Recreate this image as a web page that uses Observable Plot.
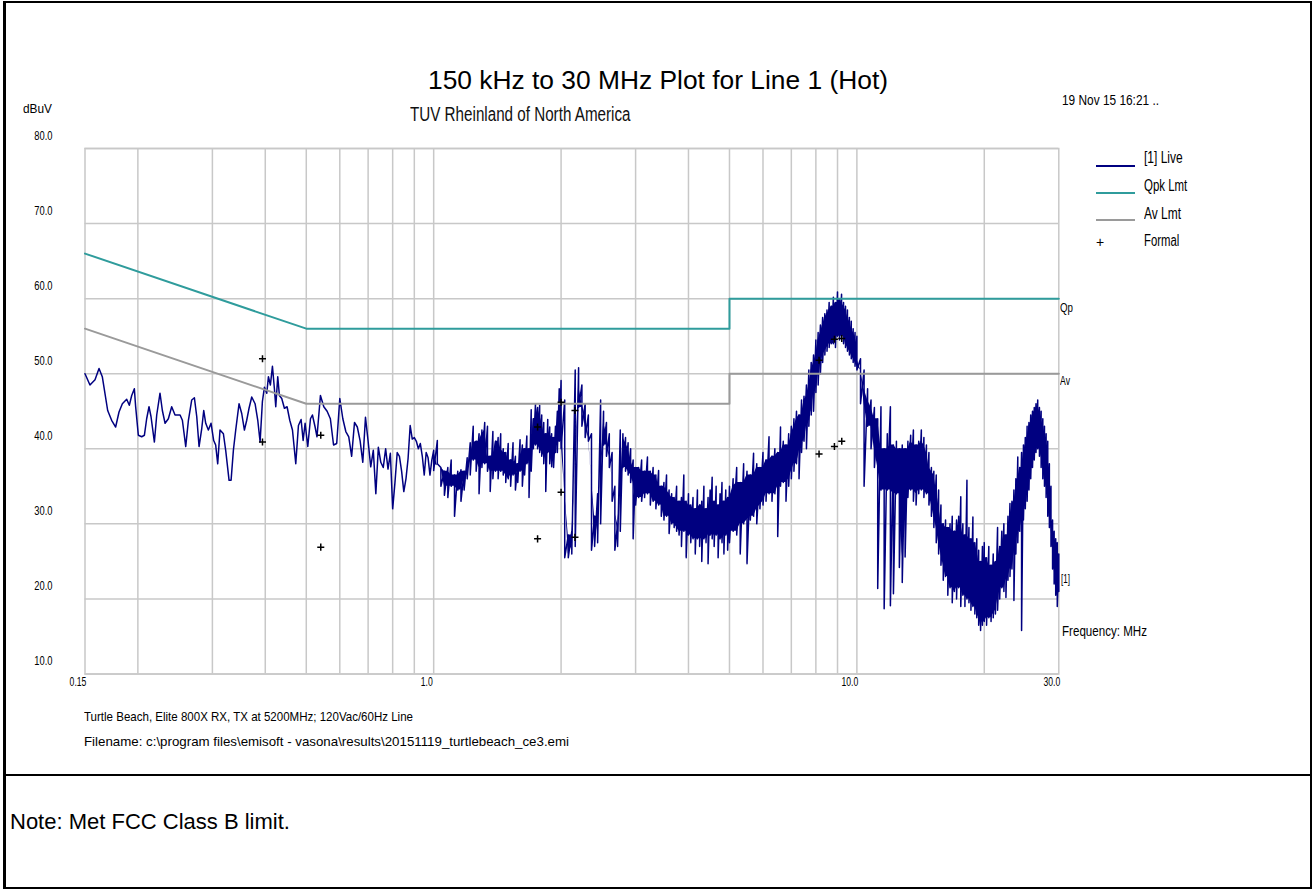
<!DOCTYPE html>
<html><head><meta charset="utf-8">
<script src="https://cdn.jsdelivr.net/npm/d3@7"></script>
<script src="https://cdn.jsdelivr.net/npm/@observablehq/plot@0.6"></script>
<style>
html,body{margin:0;padding:0;background:#fff;}
#page{position:relative;width:1313px;height:890px;overflow:hidden;background:#fff;font-family:"Liberation Sans",Arial,sans-serif;}
#page svg{position:absolute;left:0;top:0;}
.t{position:absolute;white-space:nowrap;color:#000;transform-origin:0 50%;}
.bar{position:absolute;}
</style></head><body><div id="page"></div>
<script>
// ---------- DATA ----------
// Sweep trace, low band (MHz, dBuV)
const sweepLow1 = [[0.150,50.0],[0.1541,48.5],[0.1584,49.2],[0.1619,50.7],[0.1648,49.6],[0.1697,45.1],[0.1734,43.8],[0.1772,42.9],[0.1805,44.9],[0.1838,46.0],[0.1882,46.6],[0.1909,45.8],[0.1934,47.1],[0.1962,48.0],[0.1976,45.6],[0.2005,41.8],[0.2042,41.6],[0.2072,41.8],[0.2098,44.0],[0.2125,45.6],[0.2148,44.3],[0.2188,40.9],[0.2216,44.5],[0.2256,47.4],[0.2285,45.1],[0.2319,43.4],[0.2361,44.0],[0.2404,45.6],[0.2448,44.5],[0.2516,44.5],[0.2548,43.8],[0.2595,40.3],[0.2633,43.8],[0.2681,46.5],[0.2720,46.8],[0.2755,44.3],[0.2790,40.3],[0.2831,42.7],[0.2862,45.1],[0.2893,43.4],[0.2935,42.5],[0.2978,43.4],[0.3021,41.1],[0.3054,40.5],[0.3088,38.0],[0.3127,42.5],[0.3185,42.0],[0.3225,39.8],[0.3285,35.8],[0.3321,35.8],[0.3363,39.8],[0.3406,42.5],[0.3468,46.0],[0.3519,44.7],[0.3571,42.5],[0.3616,43.8],[0.3662,45.4],[0.3716,46.9],[0.3784,46.0],[0.3840,43.8],[0.3889,40.9],[0.3938,46.3],[0.3982,48.2],[0.4033,47.4],[0.4069,49.6],[0.4113,48.5],[0.4159,51.0],[0.4204,48.0],[0.4235,45.6],[0.4281,49.6],[0.4320,47.1],[0.4375,46.7],[0.4439,45.4],[0.4504,45.6],[0.4570,43.8],[0.4638,42.5],[0.4722,38.0],[0.4791,43.1],[0.4861,43.9],[0.4915,41.1],[0.4968,43.4],[0.5041,40.3],[0.5115,44.0],[0.5170,44.5],[0.5246,42.9]];
const sweepLow2 = [[0.53,41.6],[0.54,47.1],[0.55,45.6],[0.56,45.0],[0.57,44.0],[0.58,40.5],[0.59,40.7],[0.60,46.7],[0.61,44.0],[0.62,42.3],[0.63,41.6],[0.64,39.0],[0.65,43.5],[0.66,42.9],[0.67,41.1],[0.68,38.2],[0.69,44.2],[0.70,41.0],[0.71,37.6],[0.72,39.8],[0.73,34.0],[0.74,40.2],[0.75,38.2],[0.76,37.5],[0.77,40.0],[0.78,37.3],[0.79,39.4],[0.80,32.0],[0.81,35.5],[0.82,39.5],[0.83,39.0],[0.84,37.0],[0.85,34.3],[0.86,36.0],[0.87,38.7],[0.88,43.1],[0.89,41.3],[0.90,41.5],[0.91,41.0],[0.92,40.0],[0.93,40.7],[0.94,39.0],[0.95,36.5],[0.96,39.5],[0.97,38.8],[0.98,36.5],[0.99,38.5]];
// Dense sweep: [MHz, local max dBuV, local min dBuV]
const band1 = [[1.00,39.8,37.1],[1.02,41.1,38.0],[1.04,37.5,35.0],[1.06,37.0,33.8],[1.08,37.5,33.5],[1.10,38.5,35.0],[1.12,36.5,31.0],[1.14,37.0,34.5],[1.16,37.2,33.0],[1.18,37.0,34.5],[1.20,38.8,36.0],[1.22,40.8,36.5],[1.24,43.0,38.5],[1.26,41.0,37.0],[1.28,42.0,34.0],[1.30,42.5,37.5],[1.32,43.5,38.0],[1.34,43.0,37.0],[1.36,39.0,34.3],[1.38,42.3,36.0],[1.40,41.0,37.0],[1.42,41.5,36.0],[1.44,42.0,37.0],[1.46,40.0,36.5],[1.48,39.5,35.5],[1.50,40.7,36.0],[1.52,38.5,35.0],[1.54,40.8,36.5],[1.56,39.0,34.5],[1.58,38.0,35.5],[1.60,41.2,37.0],[1.62,40.5,35.0],[1.64,40.0,36.5],[1.66,41.7,38.0],[1.68,40.0,33.5],[1.70,45.2,37.0],[1.72,44.0,40.0],[1.74,46.0,40.5],[1.76,45.5,40.0],[1.78,45.8,39.5],[1.80,44.5,39.0],[1.82,43.5,38.0],[1.84,42.0,34.3],[1.86,43.9,39.5],[1.88,42.9,38.0],[1.90,42.0,37.6],[1.92,41.5,37.5],[1.94,43.0,39.5],[1.96,45.0,39.5],[1.98,48.0,41.0],[2.00,49.1,40.0]];
const band2 = [[2.04,46.5,25.5],[2.08,28.5,25.5],[2.12,29.0,26.0],[2.16,50.5,27.0],[2.20,50.8,45.5],[2.24,48.5,43.0],[2.28,46.0,41.5],[2.32,44.5,41.0],[2.36,42.0,26.5],[2.40,31.0,27.0],[2.44,34.0,27.5],[2.48,46.5,30.0],[2.52,45.0,40.5],[2.56,43.5,39.0],[2.60,42.0,37.5],[2.64,39.5,33.0],[2.68,35.0,26.5],[2.72,30.0,27.0],[2.76,42.5,29.0],[2.80,42.0,37.5],[2.84,41.5,37.0],[2.88,40.8,36.5],[2.92,40.0,35.5],[2.96,38.5,28.0],[3.00,37.5,32.5]];
const band3 = [[3.05,37.5,33.5],[3.10,38.5,33.0],[3.15,37.0,33.5],[3.20,38.9,34.0],[3.25,37.0,32.5],[3.30,37.5,33.0],[3.35,36.5,32.0],[3.40,37.1,32.5],[3.45,35.0,31.0],[3.50,35.5,30.5],[3.55,36.5,31.0],[3.60,34.5,28.7],[3.65,34.0,30.0],[3.70,33.5,29.5],[3.75,35.0,29.0],[3.80,33.0,28.5],[3.85,33.5,27.0],[3.90,36.5,29.0],[3.95,33.0,25.5],[4.00,34.0,28.5],[4.05,32.5,27.5],[4.10,33.5,28.0],[4.15,32.0,26.0],[4.20,34.5,28.0],[4.25,32.5,27.0],[4.30,33.0,25.0],[4.35,35.0,28.0],[4.40,32.0,27.5],[4.45,33.5,24.7],[4.50,34.5,28.5],[4.55,36.2,28.0],[4.60,33.0,27.0],[4.65,35.0,28.5],[4.70,32.5,25.5],[4.75,34.0,28.0],[4.80,35.5,27.5],[4.85,33.0,26.0],[4.90,34.5,28.5],[4.95,33.5,26.5],[5.00,35.0,27.5]];
const band4 = [[5.1,36.0,29.0],[5.2,37.5,28.5],[5.3,35.5,26.0],[5.4,38.0,30.0],[5.5,37.0,24.7],[5.6,36.5,30.5],[5.7,39.4,31.0],[5.8,38.0,30.0],[5.9,37.5,32.0],[6.0,39.5,32.5],[6.1,38.5,33.0],[6.2,41.6,34.0],[6.3,39.0,33.0],[6.4,40.0,34.0],[6.5,39.5,28.3],[6.6,42.9,35.0],[6.7,41.0,35.5],[6.8,40.5,33.0],[6.9,42.0,35.0],[7.0,43.0,36.0],[7.1,44.0,37.0],[7.2,45.0,38.0],[7.3,44.5,36.0],[7.4,46.5,39.5],[7.5,47.0,41.0],[7.6,48.5,40.0],[7.7,50.5,43.0],[7.8,51.5,44.5],[7.9,52.5,45.0],[8.0,54.5,47.5],[8.1,55.5,48.5],[8.2,56.5,50.0],[8.3,57.5,51.5],[8.4,58.0,52.5],[8.5,58.5,53.0],[8.6,59.5,53.5],[8.7,59.0,54.0],[8.8,60.2,54.0],[8.9,59.5,53.5],[9.0,60.9,55.0],[9.1,60.0,54.5],[9.2,60.6,55.0],[9.3,59.5,54.0],[9.4,59.0,53.5],[9.5,58.5,53.0],[9.6,57.5,52.5],[9.7,57.0,52.0],[9.8,56.0,51.5],[9.9,55.5,51.0],[10.0,55.0,50.5]];
const band5 = [[10.2,52.0,46.0],[10.4,50.5,35.0],[10.6,48.0,43.0],[10.8,46.5,40.0],[11.0,45.5,37.5],[11.2,44.0,21.4],[11.4,45.6,34.5],[11.6,40.0,18.7],[11.8,42.0,34.5],[12.0,45.6,19.1],[12.2,40.5,20.7],[12.4,41.0,34.0],[12.6,40.0,24.2],[12.8,40.5,22.2],[13.0,40.0,25.6],[13.2,41.0,33.5],[13.4,41.8,34.5],[13.6,42.5,33.0],[13.8,40.5,32.5],[14.0,41.0,34.0],[14.2,42.5,34.5],[14.4,41.5,33.5],[14.6,40.5,34.0],[14.8,39.5,32.5],[15.0,37.5,31.0],[15.2,37.0,29.5],[15.4,36.5,27.5],[15.6,34.5,26.0],[15.8,32.5,24.5],[16.0,30.0,22.5],[16.2,30.5,23.0],[16.4,29.5,20.5],[16.6,30.0,21.5],[16.8,31.0,19.5],[17.0,29.0,21.0],[17.2,30.5,20.0],[17.4,31.0,21.5],[17.6,33.6,19.0],[17.8,30.0,20.5],[18.0,28.5,19.0],[18.2,35.8,20.0],[18.4,29.5,19.5],[18.6,28.0,18.5],[18.8,30.9,19.0],[19.0,27.5,18.0],[19.2,28.0,17.5],[19.4,26.5,16.5],[19.6,25.0,15.8],[19.8,27.0,16.5],[20.0,27.5,17.0]];
const band6 = [[20.25,25.5,16.5],[20.5,27.0,17.5],[20.75,24.5,17.0],[21.0,26.0,17.5],[21.25,25.0,18.0],[21.5,29.5,18.5],[21.75,27.0,20.0],[22.0,29.0,21.5],[22.25,30.0,21.0],[22.5,28.5,20.2],[22.75,31.0,22.5],[23.0,32.7,23.0],[23.25,33.0,24.0],[23.5,34.5,19.8],[23.75,36.0,26.0],[24.0,38.9,27.5],[24.25,37.5,29.0],[24.5,39.5,15.8],[24.75,40.5,30.5],[25.0,41.5,32.0],[25.25,43.0,33.0],[25.5,43.5,34.5],[25.75,44.5,36.0],[26.0,45.0,37.5],[26.25,45.5,38.5],[26.5,46.0,39.5],[26.75,46.5,40.0],[27.0,45.5,39.0],[27.25,45.0,37.5],[27.5,44.0,36.0],[27.75,43.0,35.0],[28.0,42.0,33.5],[28.25,41.0,31.0],[28.5,38.0,29.5],[28.75,35.0,27.0],[29.0,30.5,24.0],[29.25,29.0,22.0],[29.5,28.0,20.5],[29.75,27.5,19.0],[30.0,26.0,21.0]];
// FCC Class B limit lines
const qpkLimit = [[0.15,66],[0.5,56],[5,56],[5,60],[30,60]];
const avLimit = [[0.15,56],[0.5,46],[5,46],[5,50],[30,50]];
// Formal measurements (MHz, dBuV)
const formal = [[0.394,52.0],[0.394,40.9],[0.541,41.8],[0.541,26.9],[1.76,42.9],[1.76,28.0],[2.00,46.2],[2.00,34.2],[2.157,45.1],[2.157,28.2],[8.14,51.8],[8.14,39.3],[8.85,54.6],[8.85,40.3],[9.21,54.7],[9.21,41.0]];
// Axes
const yTicks = [10,20,30,40,50,60,70,80];
const xLabels = [0.15,1,10,30];
const xGrid = [0.2,0.3,0.4,0.5,0.6,0.7,0.8,0.9,1,2,3,4,5,6,7,8,9,10,20];

// ---------- BUILD ----------
const bands = [band1,band2,band3,band4,band5,band6].flat();
const trace = [
  ...sweepLow1.map(([f,v]) => ({f, v})),
  ...sweepLow2.map(([f,v]) => ({f, v})),
  ...bands.flatMap(([f,hi,lo]) => [{f, v: hi}, {f, v: lo}])
];
// solid core of the dense sweep: the part shared by each reading and its neighbours
const core = bands.map(([f,hi,lo], i) => {
  const a = bands[Math.max(0, i-1)], b = bands[Math.min(bands.length-1, i+1)];
  let h = Math.min(hi, a[1], b[1]), l = Math.max(lo, a[2], b[2]);
  if (h < l) { const m = (h + l) / 2; h = m; l = m; }
  return {f, hi: h, lo: l};
});

const page = document.getElementById("page");
const chart = Plot.plot({
  width: 1313, height: 890,
  marginLeft: 84.5, marginRight: 254.7, marginTop: 148, marginBottom: 216.5,
  style: {fontFamily: '"Liberation Sans", Arial, sans-serif', background: "transparent", color: "#000"},
  x: {type: "log", domain: [0.15, 30]},
  y: {domain: [10, 80]},
  marks: [
    Plot.gridX(xGrid, {stroke: "#c8c8c8", strokeOpacity: 1, strokeWidth: 1.5}),
    Plot.gridY(yTicks, {stroke: "#c8c8c8", strokeOpacity: 1, strokeWidth: 1.5}),
    Plot.frame({stroke: "#c8c8c8", strokeWidth: 1.5}),
    Plot.areaY(core, {x: "f", y1: "lo", y2: "hi", fill: "#000080"}),
    Plot.line(trace, {x: "f", y: "v", stroke: "#000080", strokeWidth: 1.5, strokeLinejoin: "round"}),
    Plot.line(avLimit, {x: d => d[0], y: d => d[1], stroke: "#9a9a9a", strokeWidth: 2}),
    Plot.line(qpkLimit, {x: d => d[0], y: d => d[1], stroke: "#2f9c9c", strokeWidth: 2}),
    Plot.dot(formal, {x: d => d[0], y: d => d[1], symbol: "plus", r: 2.4, stroke: "#000", strokeWidth: 1.5}),
    Plot.axisY(yTicks, {tickSize: 0, tickPadding: 32.5, dy: -13, fontSize: 13, tickFormat: d => d.toFixed(1), label: null}),
    Plot.axisX(xLabels, {tickSize: 0, tickPadding: 3, dx: -7, fontSize: 12, tickFormat: d => d === 0.15 ? "0.15" : d.toFixed(1), label: null})
  ]
});
page.appendChild(chart);
chart.querySelectorAll('g[aria-label="y-axis tick label"] text, g[aria-label="x-axis tick label"] text').forEach(t => {
  t.setAttribute("transform", (t.getAttribute("transform") || "") + " scale(0.72,1)");
});

// ---------- TEXT & FRAME ----------
function label(text, o) {
  const el = document.createElement("div");
  el.className = "t";
  el.textContent = text;
  el.style.fontSize = o.size + "px";
  el.style.lineHeight = o.size + "px";
  if (o.color) el.style.color = o.color;
  el.style.top = (o.yc - o.size / 2) + "px";
  el.style.left = "0px";
  page.appendChild(el);
  const w = el.getBoundingClientRect().width;
  const s = o.width ? o.width / w : 1;
  let left = o.x;
  if (o.right != null) left = o.right - w * s;
  if (o.center != null) left = o.center - w * s / 2;
  el.style.left = left + "px";
  el.style.transform = `scaleX(${s})`;
}
function bar(left, top, width, height, color) {
  const d = document.createElement("div");
  d.className = "bar";
  Object.assign(d.style, {left: left + "px", top: top + "px", width: width + "px", height: height + "px", background: color});
  page.appendChild(d);
}
// frame of the page
bar(3, 1, 1309, 2, "#000");
bar(3, 887, 1309, 2, "#000");
bar(3, 1, 2.5, 888, "#000");
bar(1309.5, 1, 2.5, 888, "#000");
bar(3, 774, 1309, 2, "#000");

label("150 kHz to 30 MHz Plot for Line 1 (Hot)", {center: 658, yc: 80, size: 25, width: 460});
label("TUV Rheinland of North America", {x: 409.5, yc: 114, size: 20, width: 220.5, color: "#111"});
label("dBuV", {right: 52, yc: 108, size: 13, width: 29});
label("19 Nov 15 16:21 ..", {x: 1062, yc: 100, size: 14, width: 97});

// legend
bar(1096, 164.5, 39, 2, "#000080");
bar(1096, 191.8, 39, 2, "#2f9c9c");
bar(1096, 219.4, 39, 2, "#9a9a9a");
label("[1] Live", {x: 1144, yc: 158, size: 16, width: 38.7});
label("Qpk Lmt", {x: 1144, yc: 186, size: 16, width: 43.3});
label("Av Lmt", {x: 1144, yc: 213.5, size: 16, width: 37});
label("+", {x: 1096, yc: 242, size: 14});
label("Formal", {x: 1144, yc: 241, size: 16, width: 35.3});

label("Qp", {x: 1059.5, yc: 307, size: 13, width: 13});
label("Av", {x: 1059.5, yc: 380.5, size: 13, width: 10});
label("[1]", {x: 1061, yc: 578, size: 13, width: 9});
label("Frequency: MHz", {x: 1061.7, yc: 630, size: 15, width: 85});

label("Turtle Beach, Elite 800X RX, TX at 5200MHz; 120Vac/60Hz Line", {x: 84, yc: 716, size: 13, width: 329});
label("Filename: c:\\program files\\emisoft - vasona\\results\\20151119_turtlebeach_ce3.emi", {x: 84, yc: 741, size: 13, width: 485});

label("Note: Met FCC Class B limit.", {x: 10, yc: 822, size: 22});
</script></body></html>
